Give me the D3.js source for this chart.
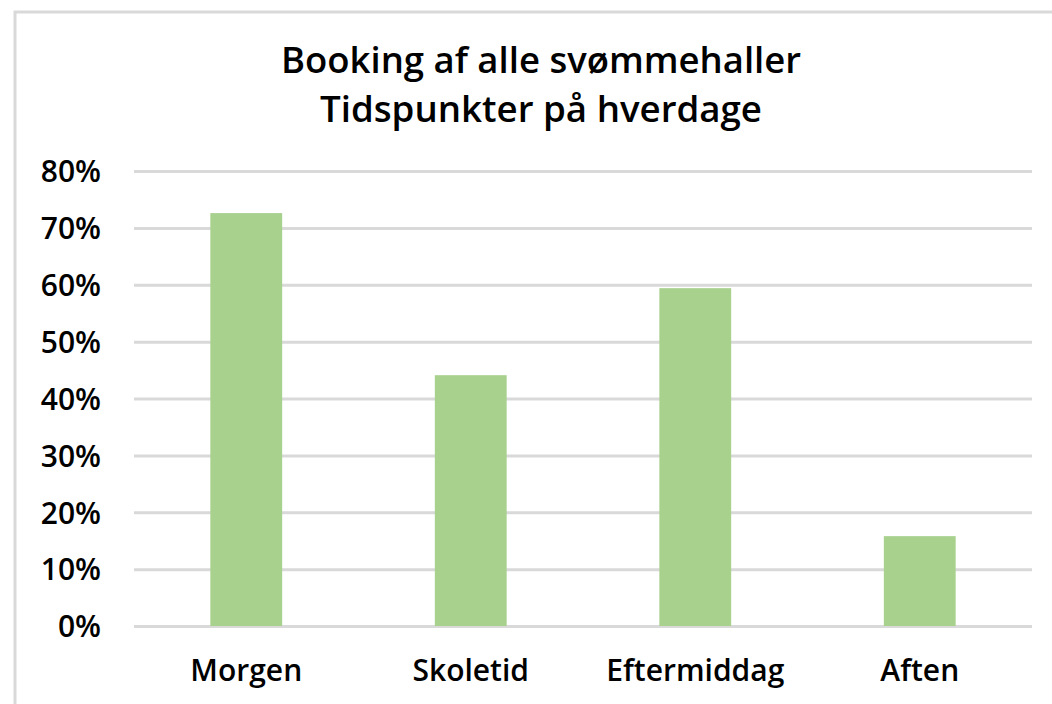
<!DOCTYPE html>
<html>
<head>
<meta charset="utf-8">
<script src="https://cdn.jsdelivr.net/npm/d3@7"></script>
<style>
  body { margin: 0; background: #fff; }
  text { font-family: "Open Sans", sans-serif; fill: #000; }
</style>
</head>
<body>
<div id="chart"></div>
<script>
// Data
const categories = ['Morgen', 'Skoletid', 'Eftermiddag', 'Aften']
const values = [0.726, 0.441, 0.594, 0.158]
const yTicks = [0, 0.1, 0.2, 0.3, 0.4, 0.5, 0.6, 0.7, 0.8]
const titleLines = ['Booking af alle svømmehaller', 'Tidspunkter på hverdage']

const width = 1052,
  height = 704

let svg = d3.select('#chart')
  .append('svg')
  .attr('width', width)
  .attr('height', height)

// outer frame (chart area border, runs off the page)
svg.append('rect')
  .attr('x', 15)
  .attr('y', 12)
  .attr('width', 1100)
  .attr('height', 800)
  .attr('fill', 'none')
  .attr('stroke', '#d9d9d9')
  .attr('stroke-width', 3)

const yScale = d3.scaleLinear()
  .domain([0, 0.8])
  .range([626, 171])

const xScale = d3.scaleBand()
  .domain(categories)
  .range([134, 1032])
  .paddingInner(0.68)
  .paddingOuter(0.34)

// title
svg.selectAll('.title')
  .data(titleLines)
  .enter()
  .append('text')
  .attr('class', 'title')
  .attr('x', 541)
  .attr('y', (d, i) => 73 + i * 49)
  .attr('text-anchor', 'middle')
  .style('font-size', '36px')
  .style('font-weight', 600)
  .attr('textLength', (d, i) => i === 0 ? 520 : 442)
  .attr('lengthAdjust', 'spacingAndGlyphs')
  .text(d => d)

// gridlines + y labels
const yAxis = d3.axisLeft(yScale)
  .tickValues(yTicks)
  .tickFormat(d3.format('.0%'))
  .tickSize(-(1032 - 134))
  .tickPadding(33)

let yAxisGroup = svg.append('g')
  .attr('transform', 'translate(134, 0)')
  .call(yAxis)

yAxisGroup.select('.domain').remove()
yAxisGroup.selectAll('.tick line')
  .attr('stroke', '#d9d9d9')
  .attr('stroke-width', 3)
yAxisGroup.selectAll('.tick text')
  .style('font-size', '30px')
  .style('font-weight', 600)
  .attr('fill', '#000')
  .attr('dy', '0.36em')

// bars
svg.selectAll('rect.bar')
  .data(values)
  .enter()
  .append('rect')
  .attr('class', 'bar')
  .attr('x', (d, i) => xScale(categories[i]))
  .attr('width', xScale.bandwidth())
  .attr('y', d => yScale(d))
  .attr('height', d => yScale(0) - yScale(d))
  .attr('fill', '#a9d18e')

// x labels
const xAxis = d3.axisBottom(xScale).tickSize(0).tickPadding(34)
let xAxisGroup = svg.append('g')
  .attr('transform', 'translate(0, 626)')
  .call(xAxis)
xAxisGroup.select('.domain').remove()
xAxisGroup.selectAll('.tick text')
  .style('font-size', '30px')
  .style('font-weight', 600)
  .attr('fill', '#000')
</script>
</body>
</html>
